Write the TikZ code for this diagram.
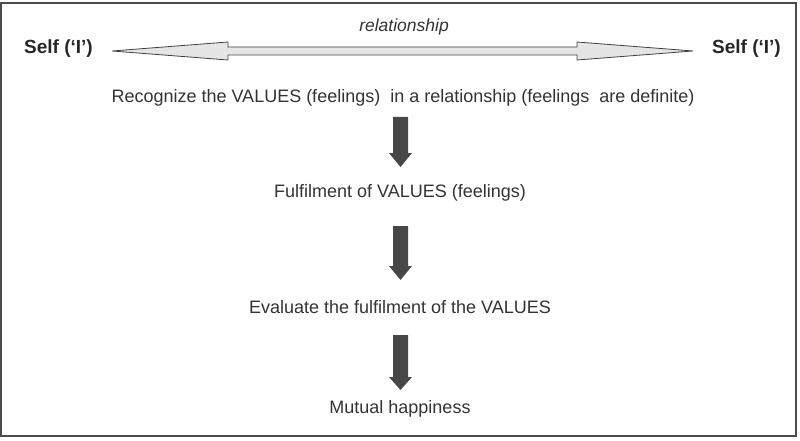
\documentclass[tikz,border=0pt]{standalone}
\usepackage{fontspec}
\setmainfont{Liberation Sans}
\begin{document}
\begin{tikzpicture}[x=1pt,y=-1pt,
  lbl/.style={text=black!80, font=\fontsize{18}{21}\selectfont, inner sep=0pt},
  selflbl/.style={text=black!85, font=\fontsize{19}{22}\selectfont\bfseries, inner sep=0pt},
  downarrow/.style={fill=black!72, draw=none}]
\useasboundingbox (0,0) rectangle (800,441);
\draw[black!70, line width=1.6pt] (1,3) rectangle (796,436);
\node[lbl, font=\fontsize{17.5}{21}\selectfont\itshape] (rel) at (404,27) {relationship};
\node[selflbl, anchor=west] (selfL) at (24,49) {Self (‘I’)};
\node[selflbl, anchor=east] (selfR) at (781,49) {Self (‘I’)};
% double arrow
\draw[black!75, line width=0.8pt, fill=black!10]
  (112,51) -- (228,42) -- (228,47) -- (577,47) -- (577,42) -- (693,51)
  -- (577,60) -- (577,55) -- (228,55) -- (228,60) -- cycle;
\node[lbl] (rec) at (403,98) {Recognize the VALUES (feelings)\ \ in a relationship (feelings\ \ are definite)};
\node[lbl] (ful) at (400,193) {Fulfilment of VALUES (feelings)};
\node[lbl] (eva) at (400,307) {Evaluate the fulfilment of the VALUES};
\node[lbl] (mut) at (400,409) {Mutual happiness};
% down arrows
\foreach \t/\b/\e in {117/153/167, 226/266/280, 335/377/390}{
  \path[downarrow] (393,\t) -- (408,\t) -- (408,\b) -- (412,\b) -- (400.5,\e) -- (389,\b) -- (393,\b) -- cycle;
}
\end{tikzpicture}
\end{document}
